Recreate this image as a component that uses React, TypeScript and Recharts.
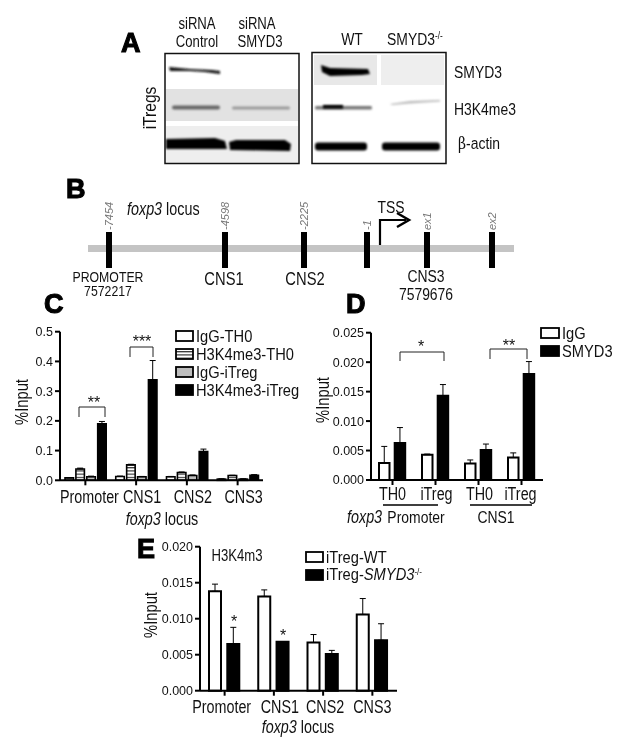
import { BarChart, Bar, XAxis, YAxis, ErrorBar, Legend } from "recharts";

const SANS = "'Liberation Sans', Arial, sans-serif";
const NARROW_SCALE = 0.82; // no narrow face installed, so squeeze the regular one
const INK = "#111";

// panel C
const locusC = ["Promoter", "CNS1", "CNS2", "CNS3"];
const iggTh0 = [0.008, 0.013, 0.012, 0.004];
const iggTh0Err = [0.001, 0.001, 0.001, 0.001];
const h3Th0 = [0.038, 0.052, 0.026, 0.016];
const h3Th0Err = [0.003, 0.002, 0.002, 0.001];
const iggItreg = [0.012, 0.012, 0.016, 0.004];
const iggItregErr = [0.002, 0.001, 0.002, 0.001];
const h3Itreg = [0.19, 0.338, 0.097, 0.017];
const h3ItregErr = [0.008, 0.065, 0.008, 0.002];
const ticksC = [0, 0.1, 0.2, 0.3, 0.4, 0.5];

// panel D
const groupsD = ["TH0", "iTreg", "TH0", "iTreg"];
const iggD = [0.0029, 0.0043, 0.0028, 0.0038];
const iggDErr = [0.0028, 0.0001, 0.0006, 0.0008];
const smyd3D = [0.0063, 0.0143, 0.0051, 0.018];
const smyd3DErr = [0.0026, 0.0019, 0.001, 0.0021];
const ticksD = [0, 0.005, 0.01, 0.015, 0.02, 0.025];

// panel E
const locusE = ["Promoter", "CNS1", "CNS2", "CNS3"];
const wtE = [0.0138, 0.0131, 0.0067, 0.0106];
const wtEErr = [0.001, 0.0009, 0.0011, 0.0022];
const koE = [0.0065, 0.0068, 0.0051, 0.007];
const koEErr = [0.0023, null, 0.0005, 0.0023];
const ticksE = [0, 0.005, 0.01, 0.015, 0.02];

const up = (e: number | null) => (e == null ? null : [0, e]);

const dataC = locusC.map((name, i) => ({
  name,
  a: iggTh0[i], aErr: up(iggTh0Err[i]),
  b: h3Th0[i], bErr: up(h3Th0Err[i]),
  c: iggItreg[i], cErr: up(iggItregErr[i]),
  d: h3Itreg[i], dErr: up(h3ItregErr[i]),
}));
const dataD = groupsD.map((name, i) => ({
  name,
  a: iggD[i], aErr: up(iggDErr[i]),
  b: smyd3D[i], bErr: up(smyd3DErr[i]),
}));
const dataE = locusE.map((name, i) => ({
  name,
  a: wtE[i], aErr: up(wtEErr[i]),
  b: koE[i], bErr: up(koEErr[i]),
}));

function Txt({ x, y, children, size = 17, rot = 0, anchor = "middle", squeeze = NARROW_SCALE, ...rest }: any) {
  return (
    <text
      transform={`translate(${x} ${y}) rotate(${rot}) scale(${squeeze} 1)`}
      fontFamily={SANS}
      fontSize={size}
      textAnchor={anchor}
      fill={INK}
      {...rest}
    >
      {children}
    </text>
  );
}

// category labels in the figure sit a little off their ticks
const makeTick = (shifts: number[], dy: number) => (p: any) => (
  <Txt x={p.x + shifts[p.index]} y={p.y + dy} size={17.5}>
    {p.payload.value}
  </Txt>
);

const swatchLegend = (rowH: number, swatchW: number, swatchH: number, nameOf?: (v: string) => any) => (props: any) => (
  <div style={{ fontFamily: SANS, fontSize: 16.5, color: INK, lineHeight: `${rowH}px`, whiteSpace: "nowrap" }}>
    {props.payload.map((it: any) => (
      <div key={it.value} style={{ display: "flex", alignItems: "center", height: rowH }}>
        <svg width={swatchW + 2} height={swatchH + 2} style={{ marginRight: 2, flexShrink: 0 }}>
          <rect x={1} y={1} width={swatchW} height={swatchH} fill={it.color} stroke="#000" strokeWidth={1.8} />
        </svg>
        <span style={{ display: "inline-block", transform: "scaleX(0.89)", transformOrigin: "left center" }}>
          {nameOf ? nameOf(it.value) : it.value}
        </span>
      </div>
    ))}
  </div>
);

const yTickStyle = { fontFamily: SANS, fontSize: 12.5, fill: INK };
const axisLine = { stroke: "#000", strokeWidth: 2 };

function Bracket({ x1, x2, y, left, right }: { x1: number; x2: number; y: number; left: number; right: number }) {
  return (
    <path d={`M${x1} ${y + left}V${y}H${x2}V${y + right}`} fill="none" stroke="#222" strokeWidth={1} />
  );
}

const Letter = ({ x, y, c }: { x: number; y: number; c: string }) => (
  <text x={x} y={y} fontFamily={SANS} fontWeight="bold" fontSize={27} stroke="#000" strokeWidth={1.1} fill="#000">
    {c}
  </text>
);

function Blots() {
  return (
    <g>
      <defs>
        <filter id="soft" x="-20%" y="-80%" width="140%" height="260%">
          <feGaussianBlur stdDeviation="1" />
        </filter>
      </defs>
      {/* siRNA blot */}
      <rect x={166} y={55} width={132} height={108} fill="#fff" />
      <rect x={166} y={89} width={132} height={32} fill="#e2e2e2" />
      <rect x={166} y={126} width={132} height={37} fill="#eeeeee" />
      <path d="M169 67 L190 69 L212 70 L220 71 L220 74 L205 72 L190 71 L170 71 Z" fill="#111" filter="url(#soft)" />
      <rect x={172} y={105.5} width={48} height={4} rx={2} fill="#666" filter="url(#soft)" />
      <rect x={232} y={106.5} width={58} height={3} rx={1.5} fill="#999" filter="url(#soft)" />
      <path d="M166 139 L215 138 L225 141 L227 149 L166 149 Z" fill="#000" filter="url(#soft)" />
      <path d="M229 142 L236 140 L285 140 L291 144 L290 151 L230 150 Z" fill="#000" filter="url(#soft)" />
      <rect x={165} y={53.5} width={134} height={110} fill="none" stroke="#111" strokeWidth={1.5} />
      {/* knockout blot */}
      <rect x={314} y={55} width={63} height={30} fill="#e8e8e8" />
      <rect x={381} y={55} width={63} height={30} fill="#eeeeee" />
      <path d="M321 65 L330 68 L368 69 L370 74 L362 75 L330 76 L322 72 Z" fill="#000" filter="url(#soft)" />
      <rect x={315} y={106} width={57} height={3.5} rx={1.5} fill="#777" filter="url(#soft)" />
      <rect x={323} y={105} width={20} height={3.5} fill="#000" filter="url(#soft)" />
      <path d="M390 104 L410 101 L440 100 L440 101.5 L410 103.5 L392 105 Z" fill="#bbb" filter="url(#soft)" />
      <rect x={315} y={142.5} width={52} height={8} rx={3} fill="#000" filter="url(#soft)" />
      <rect x={382} y={142.5} width={58} height={8} rx={3} fill="#000" filter="url(#soft)" />
      <rect x={312} y={52.5} width={134} height={111} fill="none" stroke="#111" strokeWidth={1.5} />

      <Txt x={197} y={29} size={16}>siRNA</Txt>
      <Txt x={197} y={47} size={16}>Control</Txt>
      <Txt x={257} y={29} size={16}>siRNA</Txt>
      <Txt x={260} y={47} size={16}>SMYD3</Txt>
      <Txt x={352} y={45} size={17}>WT</Txt>
      <Txt x={387} y={45} size={17} anchor="start">SMYD3<tspan fontSize={10} dy={-6}>-/-</tspan></Txt>
      <Txt x={454} y={78} size={17} anchor="start">SMYD3</Txt>
      <Txt x={454} y={115} size={17} anchor="start">H3K4me3</Txt>
      <Txt x={458} y={149} size={17} anchor="start"><tspan fontFamily="'DejaVu Serif', serif">β</tspan>-actin</Txt>
      <Txt x={156} y={108} size={19} rot={-90}>iTregs</Txt>
      <Letter x={121} y={52} c="A" />
    </g>
  );
}

function Locus() {
  const marks = [109, 225, 304, 367, 427, 492];
  const tags = ["-7454", "-4598", "-2225", "-1", "ex1", "ex2"];
  return (
    <g>
      <rect x={88} y={245} width={426} height={7} fill="#c4c4c4" />
      {marks.map((x) => (
        <rect key={x} x={x - 3} y={232} width={6} height={36} fill="#000" />
      ))}
      {tags.map((t, i) => (
        <text
          key={t}
          transform={`translate(${marks[i] + 3.5} 230) rotate(-90)`}
          fontFamily={SANS}
          fontSize={11}
          fontStyle="italic"
          fill="#777"
        >
          {t}
        </text>
      ))}
      <path d="M380 245V220H406" fill="none" stroke="#000" strokeWidth={2.2} />
      <path d="M397 213L409 220L397 227" fill="none" stroke="#000" strokeWidth={2.5} />
      <Txt x={127} y={215} size={17.5} anchor="start"><tspan fontStyle="italic">foxp3</tspan> locus</Txt>
      <Txt x={391} y={213} size={17}>TSS</Txt>
      <Txt x={108} y={282} size={15}>PROMOTER</Txt>
      <Txt x={108} y={296} size={15}>7572217</Txt>
      <Txt x={224} y={285} size={18}>CNS1</Txt>
      <Txt x={305} y={285} size={18}>CNS2</Txt>
      <Txt x={426} y={282} size={17}>CNS3</Txt>
      <Txt x={426} y={300} size={17}>7579676</Txt>
      <Letter x={66} y={198} c="B" />
    </g>
  );
}

function Annotations() {
  const stars = (x: number, y: number, s: string) => <Txt x={x} y={y} squeeze={1} size={16}>{s}</Txt>;
  return (
    <g>
      {/* C */}
      <Letter x={44} y={313} c="C" />
      <Txt x={28} y={402} size={18} rot={-90}>%Input</Txt>
      <Txt x={162} y={525} size={17.5}><tspan fontStyle="italic">foxp3</tspan> locus</Txt>
      <Bracket x1={79} x2={105} y={407} left={10} right={10} />
      {stars(94, 408, "**")}
      <Bracket x1={130} x2={153} y={347} left={10} right={10} />
      {stars(142, 347, "***")}
      {/* D */}
      <Letter x={346} y={313} c="D" />
      <Txt x={329} y={400} size={18} rot={-90}>%Input</Txt>
      <path d="M383 505H438M470 505H532" stroke="#000" strokeWidth={1.5} />
      <Txt x={347} y={523} size={17.5} anchor="start" fontStyle="italic">foxp3</Txt>
      <Txt x={416} y={523} size={17}>Promoter</Txt>
      <Txt x={496} y={523} size={17}>CNS1</Txt>
      <Bracket x1={400} x2={444} y={352} left={9} right={9} />
      {stars(421, 352, "*")}
      <Bracket x1={490} x2={527} y={349} left={10} right={10} />
      {stars(509, 351, "**")}
      {/* E */}
      <Letter x={137} y={558} c="E" />
      <Txt x={157} y={615} size={18} rot={-90}>%Input</Txt>
      <Txt x={237} y={561} size={16}>H3K4m3</Txt>
      <Txt x={298} y={733} size={17.5}><tspan fontStyle="italic">foxp3</tspan> locus</Txt>
      {stars(234, 627, "*")}
      {stars(283, 641, "*")}
    </g>
  );
}

export default function App() {
  return (
    <div style={{ position: "absolute", left: 0, top: 0, width: 624, height: 750, background: "#fff", overflow: "hidden", filter: "blur(0.3px)" }}>
      <svg width={0} height={0} style={{ position: "absolute" }}>
        <defs>
          <pattern id="hatch" width={4} height={3.2} patternUnits="userSpaceOnUse">
            <rect width={4} height={3.2} fill="#fff" />
            <rect width={4} height={1.1} fill="#222" />
          </pattern>
        </defs>
      </svg>

      {/* C */}
      <div style={{ position: "absolute", left: 20, top: 320 }}>
        <BarChart
          width={243}
          height={190}
          data={dataC}
          margin={{ top: 11.7, right: 0, bottom: 0, left: 0 }}
          barSize={8.5}
          barGap={2.4}
        >
          <XAxis dataKey="name" height={29.7} axisLine={axisLine} tickLine={axisLine} tickSize={5} tick={makeTick([4, 6, 6, 6], 16)} interval={0} />
          <YAxis width={40} domain={[0, 0.5]} ticks={ticksC} axisLine={axisLine} tickLine={axisLine} tickSize={5} tick={yTickStyle} tickFormatter={(v) => v.toFixed(1)} interval={0} />
          <Legend
            layout="horizontal"
            align="center"
            verticalAlign="middle"
            itemSorter={null}
            wrapperStyle={{ left: 155, top: 6.5, width: 160, height: 72 }}
            content={swatchLegend(18, 17, 10)}
          />
          <Bar dataKey="a" name="IgG-TH0" fill="#fff" stroke="#000" strokeWidth={1.6} isAnimationActive={false}>
            <ErrorBar dataKey="aErr" width={3} stroke="#000" strokeWidth={1} isAnimationActive={false} />
          </Bar>
          <Bar dataKey="b" name="H3K4me3-TH0" fill="url(#hatch)" stroke="#000" strokeWidth={1.6} isAnimationActive={false}>
            <ErrorBar dataKey="bErr" width={3} stroke="#000" strokeWidth={1} isAnimationActive={false} />
          </Bar>
          <Bar dataKey="c" name="IgG-iTreg" fill="#bdbdbd" stroke="#000" strokeWidth={1.6} isAnimationActive={false}>
            <ErrorBar dataKey="cErr" width={3} stroke="#000" strokeWidth={1} isAnimationActive={false} />
          </Bar>
          <Bar dataKey="d" name="H3K4me3-iTreg" fill="#000" stroke="#000" strokeWidth={1.6} isAnimationActive={false}>
            <ErrorBar dataKey="dErr" width={3} stroke="#000" strokeWidth={1} isAnimationActive={false} />
          </Bar>
        </BarChart>
      </div>

      {/* D */}
      <div style={{ position: "absolute", left: 331, top: 320 }}>
        <BarChart
          width={290}
          height={190}
          data={dataD}
          margin={{ top: 12.7, right: 78, bottom: 0, left: 0 }}
          barSize={10.5}
          barGap={5.2}
        >
          <XAxis dataKey="name" height={30} axisLine={axisLine} tickLine={axisLine} tickSize={5} tick={makeTick([0, 1, 1, -1], 13)} interval={0} />
          <YAxis width={40} domain={[0, 0.025]} ticks={ticksD} axisLine={axisLine} tickLine={axisLine} tickSize={5} tick={yTickStyle} tickFormatter={(v) => v.toFixed(3)} interval={0} />
          <Legend
            layout="horizontal"
            align="center"
            verticalAlign="middle"
            itemSorter={null}
            wrapperStyle={{ left: 209, top: 4, width: 80, height: 36 }}
            content={swatchLegend(18, 18, 10)}
          />
          <Bar dataKey="a" name="IgG" fill="#fff" stroke="#000" strokeWidth={2} isAnimationActive={false}>
            <ErrorBar dataKey="aErr" width={3} stroke="#000" strokeWidth={1} isAnimationActive={false} />
          </Bar>
          <Bar dataKey="b" name="SMYD3" fill="#000" stroke="#000" strokeWidth={2} isAnimationActive={false}>
            <ErrorBar dataKey="bErr" width={3} stroke="#000" strokeWidth={1} isAnimationActive={false} />
          </Bar>
        </BarChart>
      </div>

      {/* E */}
      <div style={{ position: "absolute", left: 160, top: 535 }}>
        <BarChart
          width={237}
          height={186}
          data={dataE}
          margin={{ top: 11.7, right: 0, bottom: 0, left: 0 }}
          barSize={12}
          barGap={6.3}
        >
          <XAxis dataKey="name" height={30.3} axisLine={axisLine} tickLine={axisLine} tickSize={5} tick={makeTick([-3, 6, 2, 0], 15)} interval={0} />
          <YAxis width={40} domain={[0, 0.02]} ticks={ticksE} axisLine={axisLine} tickLine={axisLine} tickSize={5} tick={yTickStyle} tickFormatter={(v) => v.toFixed(3)} interval={0} />
          <Legend
            layout="horizontal"
            align="center"
            verticalAlign="middle"
            itemSorter={null}
            wrapperStyle={{ left: 145, top: 13, width: 160, height: 36 }}
            content={swatchLegend(18, 17, 10, (v) =>
              v.includes("SMYD3") ? (
                <>
                  iTreg-<i>SMYD3</i>
                  <span style={{ fontSize: 9, position: "relative", top: -5 }}>-/-</span>
                </>
              ) : (
                v
              )
            )}
          />
          <Bar dataKey="a" name="iTreg-WT" fill="#fff" stroke="#000" strokeWidth={2} isAnimationActive={false}>
            <ErrorBar dataKey="aErr" width={3} stroke="#000" strokeWidth={1} isAnimationActive={false} />
          </Bar>
          <Bar dataKey="b" name="iTreg-SMYD3" fill="#000" stroke="#000" strokeWidth={2} isAnimationActive={false}>
            <ErrorBar dataKey="bErr" width={3} stroke="#000" strokeWidth={1} isAnimationActive={false} />
          </Bar>
        </BarChart>
      </div>

      <svg width={624} height={750} style={{ position: "absolute", left: 0, top: 0, pointerEvents: "none" }}>
        <Blots />
        <Locus />
        <Annotations />
      </svg>
    </div>
  );
}
